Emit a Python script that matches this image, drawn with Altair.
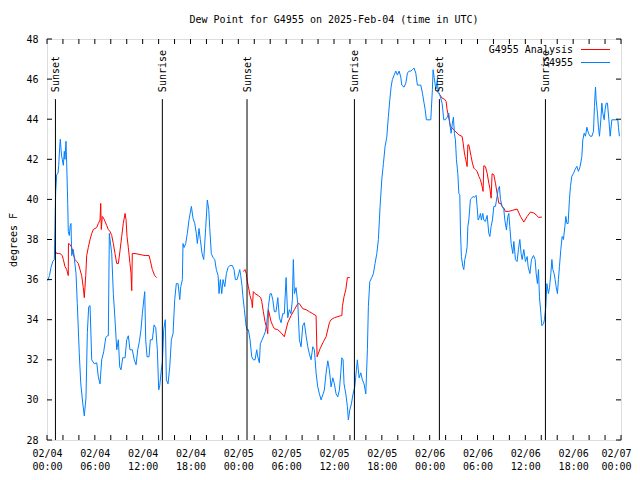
import altair as alt
import pandas as pd

TITLE = "Dew Point for G4955 on 2025-Feb-04 (time in UTC)"
FONT = "DejaVu Sans Mono"
W, H = 574, 401
BASE = pd.Timestamp("2025-02-04T00:00:00")

# ---- data (hours after 2025-02-04 00:00 UTC, dew point in F) ----
obs_hours = [0.09, 0.31, 0.50, 0.72, 0.92, 1.00, 1.09, 1.22, 1.38, 1.47, 1.59, 1.67, 1.76, 1.84, 1.92,
             2.05, 2.17, 2.26, 2.38, 2.47, 2.60, 2.67, 2.80, 2.92, 3.01, 3.10, 3.30, 3.64, 3.80, 4.05,
             4.23, 4.48, 4.68, 4.89, 5.06, 5.23, 5.40, 5.61, 5.93, 6.24, 6.44, 6.65, 6.86, 7.11, 7.37,
             7.57, 7.69, 7.82, 8.12, 8.32, 8.53, 8.75, 8.95, 9.12, 9.28, 9.50, 9.79, 10.00, 10.20, 10.41,
             10.70, 10.95, 11.17, 11.38, 11.58, 11.79, 11.96, 12.17, 12.26, 12.38, 12.55, 12.80, 12.96,
             13.21, 13.43, 13.64, 13.84, 14.01, 14.14, 14.34, 14.47, 14.64, 14.84, 14.97, 15.18, 15.40,
             15.60, 15.81, 16.02, 16.22, 16.44, 16.65, 16.78, 16.98, 17.06, 17.19, 17.40, 17.60, 17.82,
             18.11, 18.32, 18.53, 18.73, 18.86, 19.07, 19.23, 19.45, 19.66, 19.91, 20.11, 20.29, 20.41,
             20.61, 20.83, 21.04, 21.24, 21.46, 21.58, 21.74, 21.92, 22.08, 22.30, 22.50, 22.71, 22.92,
             23.25, 23.46, 23.63, 23.84, 24.05, 24.18, 24.30, 24.47, 24.56, 24.76, 24.97, 25.09, 25.26,
             25.47, 25.68, 25.88, 26.10, 26.31, 26.44, 26.64, 26.76, 26.98, 27.19, 27.39, 27.57, 27.77,
             27.98, 28.14, 28.32, 28.52, 28.73, 28.95, 29.15, 29.36, 29.57, 29.77, 29.99, 30.20, 30.40,
             30.61, 30.78, 30.90, 31.03, 31.24, 31.46, 31.66, 31.87, 32.08, 32.28, 32.50, 32.71, 32.91,
             33.12, 33.34, 33.54, 33.75, 33.96, 34.17, 34.38, 34.59, 34.79, 35.01, 35.22, 35.42, 35.63,
             35.85, 36.05, 36.26, 36.47, 36.68, 36.85, 36.98, 37.14, 37.26, 37.48, 37.68, 37.80, 37.98,
             38.18, 38.39, 38.61, 38.81, 38.93, 39.15, 39.36, 39.56, 39.77, 39.99, 40.19, 40.31, 40.49,
             40.74, 40.94, 41.15, 41.37, 41.57, 41.78, 41.99, 42.20, 42.41, 42.62, 42.82, 43.00, 43.16,
             43.32, 43.54, 43.75, 43.95, 44.17, 44.38, 44.50, 44.79, 45.01, 45.21, 45.42, 45.63, 45.83,
             46.05, 46.26, 46.46, 46.89, 47.09, 47.30, 47.43, 47.59, 48.14, 48.34, 48.43, 48.56, 48.77,
             48.97, 49.06, 49.22, 49.35, 49.56, 49.77, 49.97, 50.19, 50.40, 50.52, 50.69, 50.85, 50.98,
             51.10, 51.23, 51.36, 51.53, 51.66, 51.78, 51.86, 51.98, 52.16, 52.28, 52.41, 52.57, 52.70,
             52.79, 52.91, 53.11, 53.24, 53.45, 53.61, 53.83, 53.95, 54.08, 54.24, 54.37, 54.49, 54.67,
             54.79, 54.99, 55.21, 55.42, 55.55, 55.71, 55.87, 56.05, 56.25, 56.46, 56.59, 56.75, 56.88,
             57.09, 57.30, 57.43, 57.63, 57.80, 57.93, 58.05, 58.22, 58.43, 58.56, 58.76, 58.97, 59.13,
             59.31, 59.47, 59.60, 59.81, 60.01, 60.23, 60.35, 60.57, 60.77, 61.02, 61.23, 61.36, 61.52,
             61.65, 61.77, 61.95, 62.07, 62.27, 62.40, 62.57, 62.70, 62.90, 63.03, 63.20, 63.33, 63.45,
             63.61, 63.74, 63.86, 64.03, 64.15, 64.28, 64.45, 64.62, 64.78, 64.96, 65.08, 65.21, 65.37,
             65.53, 65.66, 65.83, 66.04, 66.25, 66.46, 66.66, 66.88, 67.09, 67.21, 67.38, 67.54, 67.72,
             67.92, 68.13, 68.35, 68.55, 68.67, 68.80, 68.88, 69.05, 69.17, 69.30, 69.47, 69.60, 69.72,
             69.89, 70.01, 70.14, 70.30, 70.48, 70.64, 70.85, 71.60, 71.68, 71.80]
obs_values = [35.95, 36.2, 36.6, 36.9, 37.0, 38.6, 40.4, 41.25, 41.3, 41.7, 42.6, 43.0, 42.5, 42.15, 42.0,
              41.7, 42.4, 42.0, 42.9, 41.8, 39.8, 38.4, 38.2, 38.7, 38.8, 37.2, 37.5, 36.3, 34.8, 32.3,
              30.85, 29.85, 29.2, 30.1, 33.35, 34.65, 34.7, 32.0, 31.8, 31.85, 31.15, 30.8, 32.0, 32.4, 33.1,
              33.2, 33.2, 38.3, 37.3, 35.3, 34.0, 32.5, 33.0, 31.65, 31.5, 32.1, 32.1, 33.0, 33.2, 32.5,
              32.5, 32.0, 31.75, 32.5, 32.9, 33.5, 34.3, 35.1, 35.4, 33.0, 32.15, 32.15, 33.0,
              33.0, 33.74, 33.6, 32.5, 30.5, 30.7, 31.5, 31.85, 33.5, 34.0, 31.0, 30.8, 31.65,
              33.0, 33.3, 35.0, 35.8, 35.8, 35.0, 35.65, 36.0, 37.8, 37.6, 37.8, 38.3, 39.0,
              39.65, 39.05, 38.8, 38.3, 37.8, 38.55, 38.0, 37.3, 37.0, 38.6, 39.97, 39.5, 38.6,
              37.3, 37.1, 37.0, 36.5, 36.2, 35.3, 36.0, 35.3, 36.0, 35.65, 36.3, 36.6, 36.7,
              36.7, 36.5, 36.0, 36.0, 36.3, 36.5, 36.2, 35.65, 35.2, 34.5, 33.7, 33.5, 33.5,
              33.0, 32.15, 32.0, 32.0, 32.5, 32.15, 31.85, 32.8, 33.0, 33.2, 33.4, 33.85, 34.65,
              35.3, 35.3, 35.0, 34.4, 34.4, 35.1, 34.1, 33.85, 34.3, 34.3, 36.1, 34.1, 34.5,
              34.3, 35.0, 37.0, 35.3, 35.6, 34.8, 33.0, 32.65, 33.7, 33.85, 33.2, 32.65, 32.3,
              32.0, 32.65, 32.5, 31.35, 30.65, 30.3, 30.0, 30.25, 30.5, 31.35, 31.95, 31.5, 30.65,
              31.1, 30.8, 30.3, 30.15, 30.5, 31.35, 32.1, 32.0, 30.8, 30.3, 29.67, 29.0, 29.5,
              29.8, 30.3, 30.65, 31.5, 32.0, 31.1, 31.35, 31.0, 30.8, 30.3, 32.5, 34.65, 35.9,
              36.1, 36.3, 36.8, 37.3, 38.0, 39.65, 40.97, 41.8, 42.65, 43.1, 44.14, 44.97, 45.6,
              45.97, 46.2, 46.4, 46.2, 46.4, 46.1, 45.7, 45.6, 45.8, 46.3, 46.4, 46.4, 46.47,
              46.55, 46.3, 45.7, 45.7, 45.3, 44.8, 44.5, 43.97, 43.97, 45.47, 46.47, 46.1, 45.5,
              46.0, 45.3, 45.3, 45.1, 44.8, 43.97, 43.97, 44.1, 44.3, 43.8, 43.3, 43.8, 44.1,
              43.3, 42.97, 41.98, 41.3, 40.3, 40.2, 38.48, 37.15, 36.65, 36.5, 37.0, 37.3, 37.65,
              38.65, 38.97, 39.98, 40.05, 40.15, 40.1, 40.2, 39.65, 38.97, 39.1, 39.3, 38.97, 39.3,
              38.97, 38.9, 39.2, 38.3, 38.15, 38.65, 38.97, 39.65, 39.65, 40.15, 40.48, 40.65, 40.0,
              39.65, 39.5, 38.97, 38.48, 39.15, 39.3, 38.65, 37.8, 37.3, 37.9, 37.0, 36.9, 37.5,
              38.0, 37.3, 37.0, 37.5, 36.9, 37.15, 36.65, 36.3, 37.0, 37.2, 37.0, 36.3, 35.8,
              36.5, 35.14, 34.3, 33.7, 33.8, 34.0, 34.65, 35.8, 35.3, 35.6, 36.3, 37.0, 36.5,
              36.3, 36.0, 35.65, 35.3, 36.0, 36.65, 37.5, 38.15, 38.0, 38.65, 39.15, 38.8, 38.8,
              39.98, 40.65, 41.15, 41.3, 41.5, 41.65, 41.4, 41.65, 42.14, 42.97, 43.3, 43.15, 43.6,
              43.3, 43.15, 43.15, 43.4, 44.64, 45.6, 44.97, 44.3, 43.6, 43.15, 43.97, 44.8, 44.3,
              43.97, 44.5, 44.8, 44.8, 43.97, 43.15, 43.97, 43.97, 43.6, 43.15]

ana1_hours = [1.00, 1.22, 1.42, 1.63, 1.92, 2.05, 2.26, 2.47, 2.67, 2.69, 2.89, 3.10, 3.30, 3.51, 3.73,
              3.93, 4.14, 4.35, 4.55, 4.68, 4.86, 4.98, 5.18, 5.40, 5.61, 5.81, 6.24, 6.44, 6.65, 6.74,
              6.81, 6.94, 7.06, 7.28, 7.49, 7.69, 7.90, 8.12, 8.32, 8.53, 8.75, 8.95, 9.16, 9.37, 9.57,
              9.79, 9.91, 10.04, 10.20, 10.41, 10.54, 10.63, 10.70, 11.04, 11.67, 12.30, 12.80, 12.96,
              13.21, 13.51, 13.76]
ana1_values = [37.45, 37.3, 37.3, 37.3, 37.2, 37.0, 36.65, 36.5, 36.2, 37.8, 37.75, 37.6, 37.3, 37.0, 36.9,
               36.8, 36.5, 36.2, 35.6, 35.1, 36.2, 37.2, 37.6, 38.0, 38.3, 38.5, 38.6, 38.8, 38.97, 39.8,
               38.5, 39.15, 39.1, 38.9, 38.7, 38.5, 38.4, 38.2, 37.8, 37.3, 36.8, 36.8, 37.45, 38.15, 38.8,
               39.3, 39.0, 38.15, 37.6, 36.8, 36.3, 35.45, 37.3, 37.3, 37.25, 37.2, 37.2, 36.95,
               36.5, 36.2, 36.1]

ana2_hours = [24.63, 24.84, 25.00, 25.13, 25.26, 25.47, 25.68, 25.76, 25.88, 26.10, 26.51, 26.81, 26.94,
              27.14, 27.35, 27.57, 27.69, 27.77, 28.11, 28.32, 28.52, 28.95, 29.36, 29.77, 30.20, 30.61,
              31.03, 31.46, 31.66, 32.08, 32.50, 32.91, 33.34, 33.75, 33.88, 34.25, 34.67, 35.01, 35.42,
              35.63, 36.05, 36.85, 36.98, 37.05, 37.26, 37.48, 37.68, 37.98]
ana2_values = [36.4, 36.5, 36.3, 35.9, 35.65, 35.2, 34.9, 34.6, 35.4, 35.3, 35.2, 35.1, 34.9,
               34.4, 33.9, 33.6, 33.3, 34.5, 33.9, 33.7, 33.55, 33.5, 33.35, 33.15, 33.85, 34.2,
               34.5, 34.8, 34.8, 34.55, 34.5, 34.4, 34.3, 34.2, 32.15, 32.55, 32.9, 33.15, 33.85,
               34.0, 34.1, 34.2, 34.2, 34.65, 35.15, 35.5, 36.1, 36.1]

ana3_hours = [49.27, 49.56, 49.85, 50.06, 50.19, 50.40, 50.60, 50.82, 51.03, 51.44, 51.66, 52.07, 52.20,
              52.36, 52.53, 52.70, 52.79, 52.91, 53.04, 53.20, 53.36, 53.54, 53.74, 53.95, 54.17, 54.37,
              54.58, 54.70, 54.79, 54.99, 55.21, 55.42, 55.55, 55.71, 55.83, 56.05, 56.25, 56.46, 56.67,
              56.88, 57.09, 57.30, 57.50, 57.93, 58.34, 58.97, 59.39, 59.81, 60.23, 60.64, 61.07, 61.44,
              61.65, 62.07]
ana3_values = [45.22, 45.05, 45.0, 44.89, 44.47, 44.06, 43.64, 43.56, 43.47, 43.31, 43.22, 43.14, 42.81,
               42.31, 41.98, 41.64, 42.72, 42.72, 42.47, 42.14, 41.81, 41.56, 41.48, 41.4, 41.15, 40.98,
               40.65, 40.4, 41.68, 41.64, 41.31, 40.81, 40.56, 40.06, 41.28, 41.23, 40.81, 40.31, 39.81,
               39.81, 39.65, 39.57, 39.4, 39.4, 39.45, 39.52, 39.15, 38.87, 39.15, 39.37, 39.32, 39.2,
               39.1, 39.12]

sun_labels = ["Sunset", "Sunrise", "Sunset", "Sunrise", "Sunset", "Sunrise"]
sun_hours = [1.06, 14.47, 25.09, 38.56, 49.22, 62.52]

series_names = ["G4955 Analysis", "G4955"]
series_colors = ["#ff0000", "#0080ff"]

y_ticks = list(range(28, 49, 2))
x_label_hours = list(range(0, 73, 6))
x_tick_hours = list(range(0, 73, 2))


def ts(hours):
    return [(BASE + pd.Timedelta(hours=float(h))).strftime("%Y-%m-%dT%H:%M:%SZ") for h in hours]


frames = []
for seg, (hh, vv) in enumerate([(ana1_hours, ana1_values), (ana2_hours, ana2_values), (ana3_hours, ana3_values)]):
    frames.append(pd.DataFrame({"t": ts(hh), "v": vv, "series": series_names[0], "seg": f"a{seg}"}))
red_df = pd.concat(frames, ignore_index=True)
blue_df = pd.DataFrame({"t": ts(obs_hours), "v": obs_values, "series": series_names[1], "seg": "obs"})
sun_df = pd.DataFrame({"t": ts(sun_hours), "label": sun_labels})
xt_df = pd.DataFrame({"t": ts(x_tick_hours)})
yt_df = pd.DataFrame({"v": y_ticks})

x_dom = [alt.DateTime(year=2025, month=2, date=4, hours=0, utc=True),
         alt.DateTime(year=2025, month=2, date=7, hours=0, utc=True)]
x_vals = [alt.DateTime(year=2025, month=2, date=4 + h // 24, hours=h % 24, utc=True) for h in x_label_hours]
xscale = alt.Scale(type="utc", domain=x_dom, nice=False)
yscale = alt.Scale(domain=[28, 48], nice=False, zero=False)
cscale = alt.Scale(domain=series_names, range=series_colors)

last = "datum.index === 1"
xaxis = alt.Axis(values=x_vals, title=None, ticks=False, domain=False, grid=False,
                 labelExpr="[utcFormat(datum.value, '%m/%d'), utcFormat(datum.value, '%H:%M')]",
                 labelFont=FONT, labelFontSize=10, labelColor="black", labelPadding=8,
                 labelLineHeight=13, labelOverlap=False, labelBound=False, labelFlush=False,
                 labelAlign=alt.condition(last, alt.value("right"), alt.value("center")),
                 labelOffset=alt.condition(last, alt.value(10), alt.value(0)))
yaxis = alt.Axis(values=y_ticks, title="degrees F", ticks=False, domain=False, grid=False,
                 labelFont=FONT, labelFontSize=10, labelColor="black", labelPadding=9,
                 titleFont=FONT, titleFontSize=10, titleFontWeight="normal", titleColor="black",
                 titlePadding=7)

X = alt.X("t:T", scale=xscale, axis=xaxis)
Xn = alt.X("t:T", scale=xscale)

lines_red = alt.Chart(red_df).mark_line(strokeWidth=1, interpolate="linear").encode(
    x=X, y=alt.Y("v:Q", scale=yscale, axis=yaxis),
    color=alt.Color("series:N", scale=cscale, legend=None), detail="seg:N")
lines_blue = alt.Chart(blue_df).mark_line(strokeWidth=1, interpolate="linear").encode(
    x=Xn, y=alt.Y("v:Q", scale=yscale),
    color=alt.Color("series:N", scale=cscale, legend=None))

sun_rules = alt.Chart(sun_df).mark_rule(color="black", strokeWidth=1).encode(
    x=Xn, y=alt.Y(datum=45, scale=yscale), y2=alt.Y2(datum=28))
sun_text = alt.Chart(sun_df).mark_text(angle=270, align="left", baseline="middle", font=FONT,
                                       fontSize=10, color="black", dy=1).encode(
    x=Xn, y=alt.Y(datum=45.35, scale=yscale), text="label:N")

tick_len = 5
tb = alt.Chart(xt_df).mark_rule(color="black").encode(x=Xn, y=alt.value(H), y2=alt.value(H - tick_len))
tt = alt.Chart(xt_df).mark_rule(color="black").encode(x=Xn, y=alt.value(0), y2=alt.value(tick_len))
tl = alt.Chart(yt_df).mark_rule(color="black").encode(y=alt.Y("v:Q", scale=yscale), x=alt.value(0), x2=alt.value(tick_len))
tr = alt.Chart(yt_df).mark_rule(color="black").encode(y=alt.Y("v:Q", scale=yscale), x=alt.value(W), x2=alt.value(W - tick_len))

one = alt.Data(values=[{}])
leg = []
for i, (name, col) in enumerate(zip(series_names, series_colors)):
    yy = 10.5 + 13 * i
    leg.append(alt.Chart(one).mark_text(align="right", baseline="middle", font=FONT, fontSize=10,
                                        color="black").encode(x=alt.value(526), y=alt.value(yy),
                                                              text=alt.value(name)))
    leg.append(alt.Chart(one).mark_rule(color=col, strokeWidth=1).encode(
        x=alt.value(534), x2=alt.value(563), y=alt.value(yy)))

chart = alt.layer(lines_red, lines_blue, sun_rules, sun_text, tb, tt, tl, tr, *leg).properties(
    width=W, height=H,
    title=alt.TitleParams(TITLE, font=FONT, fontSize=10, fontWeight="normal", anchor="middle",
                          offset=9, color="black"),
    autosize=alt.AutoSizeParams(type="none"),
    padding={"left": 39, "top": 31, "right": 11, "bottom": 32},
).configure_view(stroke="black", strokeWidth=1).configure(background="white")

chart.save("out.html", embed_options={"renderer": "svg", "actions": False})
